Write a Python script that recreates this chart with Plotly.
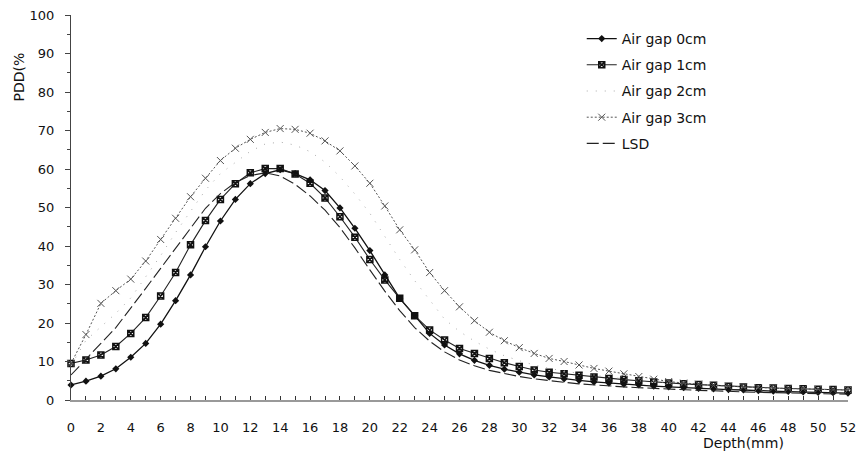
import plotly.graph_objects as go

depth = list(range(0, 53))

gap0 = [3.9, 4.9, 6.2, 8.1, 11.1, 14.7, 19.7, 25.8, 32.5, 39.8, 46.5, 52.1, 56.2, 58.8, 59.8,
        58.8, 57.2, 54.4, 49.9, 44.6, 38.8, 32.5, 26.4, 21.9, 17.3, 14.3, 12.0, 10.3, 9.0, 8.0,
        7.2, 6.5, 6.0, 5.5, 5.1, 4.7, 4.4, 4.1, 3.9, 3.6, 3.4, 3.2, 3.0, 2.9, 2.7, 2.6, 2.4,
        2.3, 2.2, 2.1, 2.0, 1.9, 1.8]
gap1 = [9.5, 10.4, 11.7, 13.9, 17.3, 21.4, 27.0, 33.1, 40.3, 46.6, 52.1, 56.2, 59.0, 60.1, 60.1,
        58.7, 56.3, 52.5, 47.6, 42.3, 36.5, 31.2, 26.4, 21.9, 18.2, 15.6, 13.4, 12.1, 10.8, 9.7,
        8.7, 7.8, 7.2, 6.8, 6.4, 6.0, 5.6, 5.3, 5.0, 4.7, 4.4, 4.2, 4.0, 3.8, 3.6, 3.4, 3.2,
        3.1, 3.0, 2.9, 2.8, 2.7, 2.6]
gap2 = [9.0, 15.5, 19.0, 22.5, 26.5, 32.0, 37.5, 43.5, 49.0, 54.5, 58.8, 61.8, 64.6, 66.5, 67.0,
        66.2, 64.5, 61.8, 58.0, 53.5, 48.5, 42.5, 36.5, 31.0, 26.0, 21.0, 17.8, 15.3, 13.2, 11.5,
        10.2, 9.1, 8.2, 7.5, 6.9, 6.4, 5.9, 5.5, 5.1, 4.8, 4.5, 4.2, 4.0, 3.8, 3.6, 3.4, 3.2,
        3.1, 3.0, 2.9, 2.8, 2.7, 2.6]
gap3 = [9.5, 17.0, 25.1, 28.4, 31.4, 36.1, 41.7, 47.2, 52.8, 57.6, 62.2, 65.4, 67.7, 69.5, 70.5,
        70.3, 69.3, 67.3, 64.7, 60.8, 56.3, 50.4, 44.2, 39.0, 33.1, 28.4, 24.2, 20.6, 17.6, 15.4,
        13.6, 12.1, 10.8, 10.0, 9.1, 8.2, 7.5, 6.8, 6.1, 5.4, 4.8, 4.4, 4.1, 3.8, 3.6, 3.4, 3.2,
        3.1, 3.0, 2.9, 2.8, 2.7, 2.6]
lsd = [6.5, 10.5, 14.7, 18.8, 23.8, 29.0, 34.2, 39.4, 44.8, 49.8, 53.6, 56.5, 58.3, 59.0, 58.2,
       56.0, 53.0, 49.3, 44.8, 39.5, 33.8, 28.3, 23.2, 18.8, 15.3, 12.5, 10.4, 8.9, 7.7, 6.8,
       6.1, 5.5, 5.0, 4.6, 4.2, 3.9, 3.6, 3.4, 3.2, 3.0, 2.8, 2.6, 2.5, 2.4, 2.2, 2.1, 2.0,
       1.9, 1.8, 1.7, 1.6, 1.6, 1.5]

names = ["Air gap 0cm", "Air gap 1cm", "Air gap 2cm", "Air gap 3cm", "LSD"]

fig = go.Figure()
fig.add_trace(go.Scatter(x=depth, y=gap0, name=names[0], mode="lines+markers",
                         line=dict(color="#111", width=1.3),
                         marker=dict(symbol="diamond", size=5.5, color="#111"),
                         legendgroup="a", cliponaxis=False))
fig.add_trace(go.Scatter(x=depth, y=gap1, name=names[1], mode="lines+markers",
                         line=dict(color="#222", width=1.1),
                         marker=dict(symbol="square-x-open", size=6, color="#111", line=dict(width=1.5)),
                         legendgroup="b", cliponaxis=False))
fig.add_trace(go.Scatter(x=depth, y=gap2, name=names[2], mode="lines",
                         line=dict(color="#aaa", width=1, dash="1px,8px"),
                         legendgroup="c", cliponaxis=False))
fig.add_trace(go.Scatter(x=depth, y=gap3, name=names[3], mode="lines+markers",
                         line=dict(color="#555", width=1, dash="2px,2px"),
                         marker=dict(symbol="x-thin-open", size=7, color="#555", line=dict(width=1, color="#555")),
                         legendgroup="d", cliponaxis=False))
fig.add_trace(go.Scatter(x=depth, y=lsd, name=names[4], mode="lines",
                         line=dict(color="#222", width=1.1, dash="12px,4px"),
                         legendgroup="e", cliponaxis=False))

font = "DejaVu Sans, Arial, sans-serif"
# plot area spans page px x 71..856, y 15..400
W, H = 864, 465
ML, MR, MT, MB = 71, 8, 15, 65
pw, ph = W - ML - MR, H - MT - MB


def px_to_paper(px, py):
    return (px - ML) / pw, (H - MB - py) / ph


ax1, ay1 = px_to_paper(18, 77)
ax2, ay2 = px_to_paper(750, 443)

fig.update_layout(
    width=W, height=H,
    margin=dict(l=ML, r=MR, t=MT, b=MB),
    paper_bgcolor="white", plot_bgcolor="white",
    font=dict(family=font, size=12, color="#111"),
    showlegend=True,
    legend=dict(x=px_to_paper(587, 0)[0], y=px_to_paper(0, 23)[1], xanchor="left", yanchor="top",
                bgcolor="rgba(0,0,0,0)", font=dict(size=14, family=font),
                tracegroupgap=5, itemwidth=30),
    xaxis=dict(range=[0, 52], dtick=2, tick0=0, showgrid=False, zeroline=False,
               showline=True, linecolor="#999", linewidth=2,
               ticks="inside", ticklen=4, tickcolor="#333", tickwidth=1,
               minor=dict(dtick=1, ticks="inside", ticklen=4, tickcolor="#333", showgrid=False),
               tickfont=dict(size=13), ticklabelstandoff=14, ticklabeloverflow="allow"),
    yaxis=dict(range=[0, 100], dtick=10, tick0=0, showgrid=False, zeroline=False,
               showline=True, linecolor="#444", linewidth=1,
               ticks="outside", ticklen=5, tickcolor="#444",
               minor=dict(dtick=5, ticks="outside", ticklen=3, tickcolor="#444", showgrid=False),
               tickfont=dict(size=13), ticklabelstandoff=8, ticklabeloverflow="allow"),
    annotations=[
        dict(text="PDD(%", x=ax1, y=ay1, xref="paper", yref="paper", showarrow=False,
             xanchor="center", yanchor="middle", textangle=-90, font=dict(size=14)),
        dict(text="Depth(mm)", x=ax2, y=ay2, xref="paper", yref="paper", showarrow=False,
             xanchor="center", yanchor="middle", font=dict(size=14)),
    ],
)

fig.write_html("out.html", config={"displayModeBar": False},
               post_script="document.body.style.margin='0';")
